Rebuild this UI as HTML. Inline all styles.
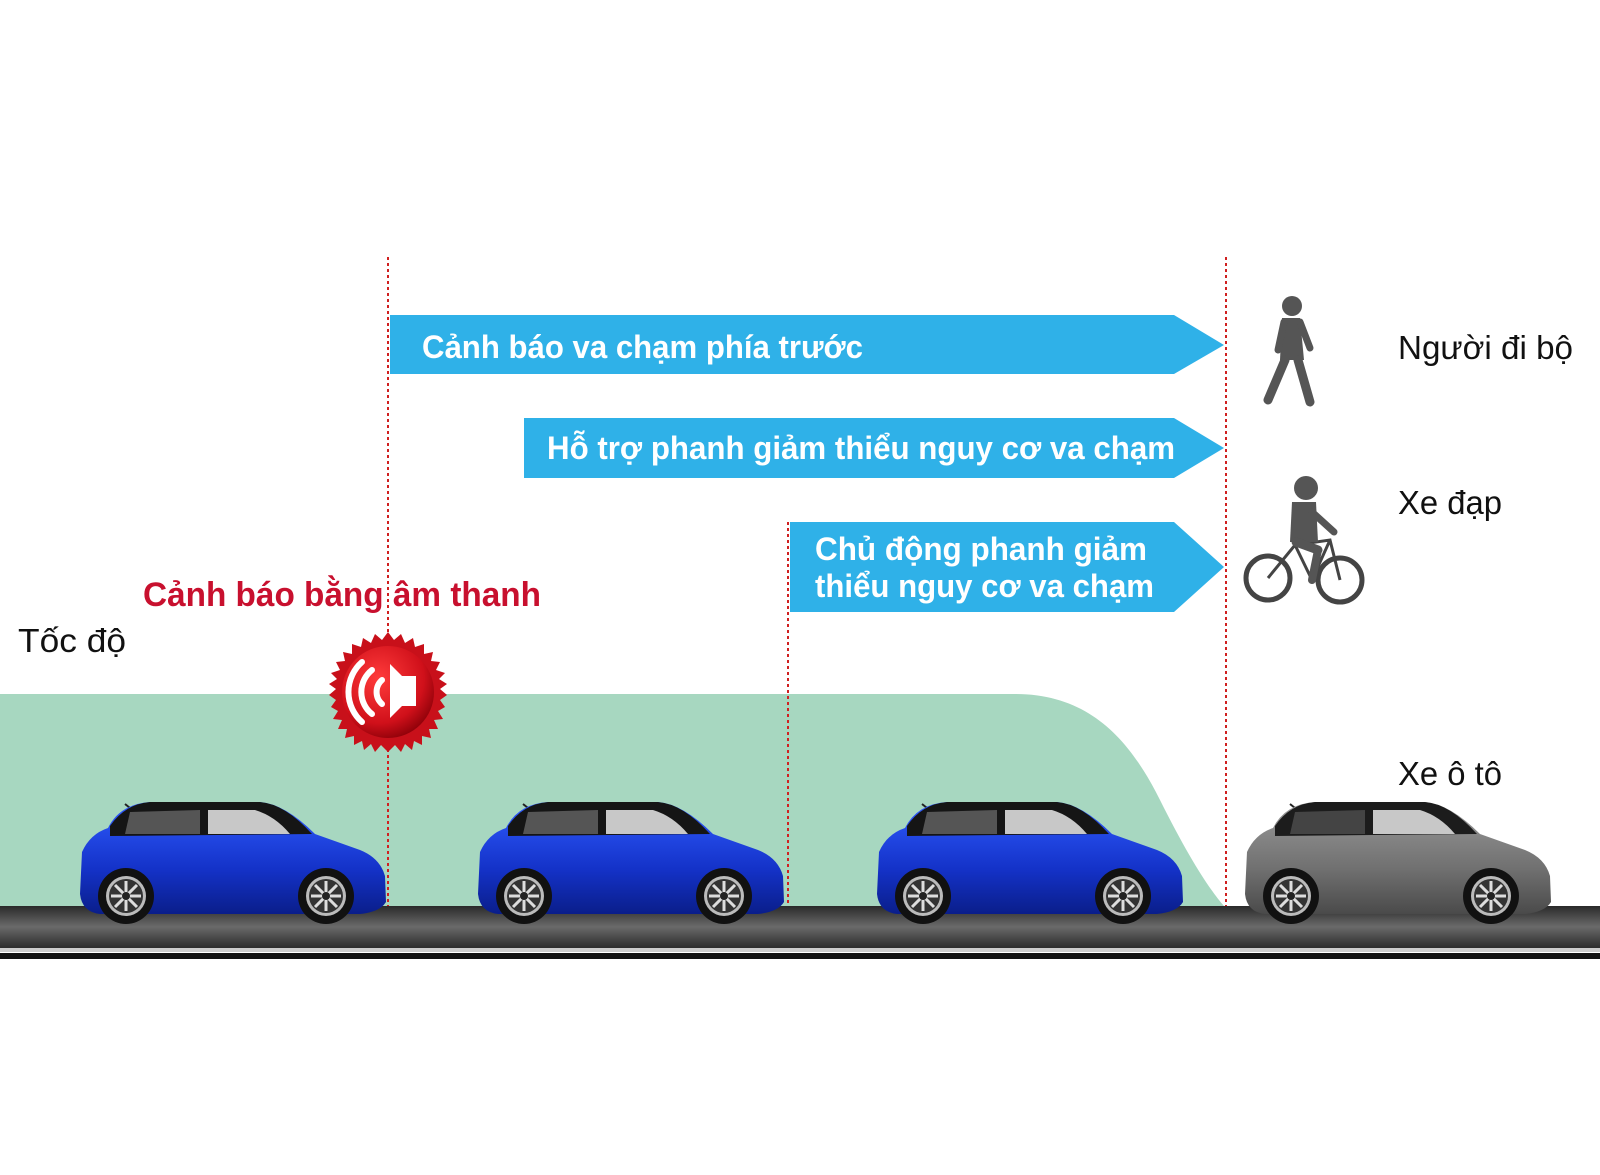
<!DOCTYPE html>
<html><head><meta charset="utf-8"><style>
html,body{margin:0;padding:0;background:#fff;width:1600px;height:1175px;overflow:hidden}
svg{display:block}
text{font-family:"Liberation Sans",sans-serif}
</style></head><body>
<svg width="1600" height="1175" viewBox="0 0 1600 1175" xmlns="http://www.w3.org/2000/svg">
<defs>
<linearGradient id="road" x1="0" y1="0" x2="0" y2="1">
<stop offset="0" stop-color="#2a2a2a"/><stop offset="0.45" stop-color="#6a6a6a"/><stop offset="0.8" stop-color="#3a3a3a"/><stop offset="1" stop-color="#222"/>
</linearGradient>
<radialGradient id="badge" cx="0.4" cy="0.35" r="0.7">
<stop offset="0" stop-color="#ff3b3b"/><stop offset="0.7" stop-color="#d0101a"/><stop offset="1" stop-color="#8a0008"/>
</radialGradient>
<linearGradient id="blue" x1="0" y1="0" x2="0" y2="1">
<stop offset="0" stop-color="#2f5cff"/><stop offset="0.6" stop-color="#1432c8"/><stop offset="1" stop-color="#0a1e8a"/>
</linearGradient>
<linearGradient id="grey" x1="0" y1="0" x2="0" y2="1">
<stop offset="0" stop-color="#9a9a9a"/><stop offset="0.6" stop-color="#707070"/><stop offset="1" stop-color="#4a4a4a"/>
</linearGradient>
<g id="wheel">
<circle r="28" fill="#111"/><circle r="20" fill="#bbb"/><circle r="17" fill="#333"/>
<g stroke="#ddd" stroke-width="3"><line x1="-15" y1="0" x2="15" y2="0"/><line x1="0" y1="-15" x2="0" y2="15"/><line x1="-11" y1="-11" x2="11" y2="11"/><line x1="-11" y1="11" x2="11" y2="-11"/></g>
<circle r="4" fill="#222"/>
</g>
<g id="carA">
<path d="M45 6 L60 18" stroke="#222" stroke-width="2"/>
<path d="M28 30 Q40 6 70 4 L180 4 Q205 6 235 36 L280 52 Q300 60 305 78 L306 104 Q300 114 280 116 L20 116 Q2 114 0 96 L2 54 Q10 36 28 30 Z" fill="url(#blue)"/>
<path d="M30 28 Q45 6 70 4 L180 4 Q205 6 232 36 L30 38 Z" fill="#151515"/>
<path d="M50 14 L120 12 L120 36 L45 36 Z" fill="#555"/>
<path d="M128 12 L175 12 Q195 18 210 36 L128 36 Z" fill="#c8c8c8"/>
<use href="#wheel" x="46" y="98"/>
<use href="#wheel" x="246" y="98"/>
</g>
</defs>

<path d="M0 694 L1015 694 C1090 694 1130 740 1160 800 C1190 860 1210 890 1224 906 L0 906 Z" fill="#a7d7c0"/>

<rect x="0" y="906" width="1600" height="46" fill="url(#road)"/>
<rect x="0" y="948" width="1600" height="4" fill="#ccc"/>
<rect x="0" y="953" width="1600" height="6" fill="#111"/>

<g stroke="#d02020" stroke-width="2" stroke-dasharray="3,3">
<line x1="388" y1="257" x2="388" y2="906"/>
<line x1="788" y1="522" x2="788" y2="906"/>
<line x1="1226" y1="257" x2="1226" y2="906"/>
</g>

<polygon points="390,315 1174,315 1224,345 1174,374 390,374" fill="#2fb1e8"/>
<polygon points="524,418 1174,418 1224,448 1174,478 524,478" fill="#2fb1e8"/>
<polygon points="790,522 1174,522 1224,567 1174,612 790,612" fill="#2fb1e8"/>
<g fill="#fff" font-weight="bold" font-size="32">
<text x="422" y="358" textLength="441" lengthAdjust="spacingAndGlyphs">Cảnh báo va chạm phía trước</text>
<text x="547" y="459" textLength="628" lengthAdjust="spacingAndGlyphs">Hỗ trợ phanh giảm thiểu nguy cơ va chạm</text>
<text x="815" y="560" textLength="332" lengthAdjust="spacingAndGlyphs">Chủ động phanh giảm</text>
<text x="815" y="597" textLength="339" lengthAdjust="spacingAndGlyphs">thiểu nguy cơ va chạm</text>
</g>

<text x="143" y="606" fill="#c8102e" font-weight="bold" font-size="34" textLength="398" lengthAdjust="spacingAndGlyphs">Cảnh báo bằng âm thanh</text>
<text x="18" y="652" fill="#111" font-size="33" textLength="108" lengthAdjust="spacingAndGlyphs">Tốc độ</text>

<g fill="#111" font-size="33">
<text x="1398" y="359" textLength="175" lengthAdjust="spacingAndGlyphs">Người đi bộ</text>
<text x="1398" y="514" textLength="104" lengthAdjust="spacingAndGlyphs">Xe đạp</text>
<text x="1398" y="785" textLength="104" lengthAdjust="spacingAndGlyphs">Xe ô tô</text>
</g>

<g transform="translate(388,692)">
<polygon fill="#c8101a" points="
0,-60 6,-52 13,-58 17,-49 25,-54 27,-45 36,-48 36,-38 45,-40 43,-31 52,-30 48,-22 57,-19 51,-13 59,-8 52,-3 59,3 52,8 57,15 50,19 55,27 46,28 50,37 41,37 43,46 34,44 34,53 26,49 24,58 17,52 13,60 7,53 0,60 -7,53 -13,60 -17,52 -24,58 -26,49 -34,53 -34,44 -43,46 -41,37 -50,37 -46,28 -55,27 -50,19 -57,15 -52,8 -59,3 -52,-3 -59,-8 -51,-13 -57,-19 -48,-22 -52,-30 -43,-31 -45,-40 -36,-38 -36,-48 -27,-45 -25,-54 -17,-49 -13,-58 -6,-52"/>
<circle r="46" fill="url(#badge)"/>
<path d="M2 -28 L14 -16 L28 -16 L28 14 L14 14 L2 26 Z" fill="#fff"/>
<g fill="none" stroke="#fff" stroke-width="6" stroke-linecap="round">
<path d="M-6 -12 A16 16 0 0 0 -6 12"/>
<path d="M-16 -22 A28 28 0 0 0 -16 22"/>
<path d="M-26 -30 A40 40 0 0 0 -26 30"/>
</g>
</g>

<g transform="translate(80,798)"><use href="#carA"/></g>
<g transform="translate(478,798)"><use href="#carA"/></g>
<g transform="translate(877,798)"><use href="#carA"/></g>
<g transform="translate(1245,798)">
<path d="M45 6 L60 18" stroke="#222" stroke-width="2"/>
<path d="M28 30 Q40 6 70 4 L180 4 Q205 6 235 36 L280 52 Q300 60 305 78 L306 104 Q300 114 280 116 L20 116 Q2 114 0 96 L2 54 Q10 36 28 30 Z" fill="url(#grey)"/>
<path d="M30 28 Q45 6 70 4 L180 4 Q205 6 232 36 L30 38 Z" fill="#1c1c1c"/>
<path d="M50 14 L120 12 L120 36 L45 36 Z" fill="#444"/>
<path d="M128 12 L175 12 Q195 18 210 36 L128 36 Z" fill="#c8c8c8"/>
<use href="#wheel" x="46" y="98"/>
<use href="#wheel" x="246" y="98"/>
</g>

<g fill="#555" stroke="#555" stroke-linecap="round">
<circle cx="1292" cy="306" r="10" stroke="none"/>
<path d="M1282 318 L1300 318 L1304 360 L1280 360 Z" stroke="none"/>
<line x1="1285" y1="360" x2="1268" y2="400" stroke-width="9"/>
<line x1="1298" y1="360" x2="1310" y2="402" stroke-width="9"/>
<line x1="1284" y1="322" x2="1278" y2="350" stroke-width="7"/>
<line x1="1300" y1="322" x2="1310" y2="348" stroke-width="7"/>
</g>
<g fill="none" stroke="#444" stroke-width="5">
<circle cx="1268" cy="578" r="22"/>
<circle cx="1340" cy="580" r="22"/>
<path d="M1268 578 L1295 545 L1330 540 L1340 580 M1295 545 L1312 580 L1330 540" stroke-width="3"/>
</g>
<g fill="#555" stroke="#555" stroke-linecap="round">
<circle cx="1306" cy="488" r="12" stroke="none"/>
<path d="M1292 502 L1316 502 L1318 542 L1290 542 Z" stroke="none"/>
<line x1="1312" y1="512" x2="1334" y2="532" stroke-width="7"/>
<line x1="1296" y1="542" x2="1318" y2="550" stroke-width="9"/>
<line x1="1318" y1="550" x2="1312" y2="580" stroke-width="8"/>
</g>
</svg>
</body></html>
